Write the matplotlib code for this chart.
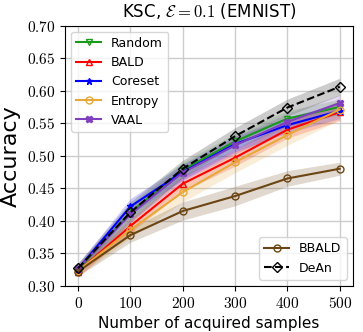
import matplotlib
matplotlib.use("Agg")
import matplotlib.pyplot as plt
from matplotlib.ticker import FuncFormatter

plt.rcParams['mathtext.fontset'] = 'cm'

# acquired samples
samples = [0, 100, 200, 300, 400, 500]

# mean accuracy per method
random_acc = [0.325, 0.413, 0.478, 0.522, 0.557, 0.575]
bald_acc = [0.322, 0.392, 0.457, 0.497, 0.540, 0.567]
coreset_acc = [0.326, 0.422, 0.475, 0.518, 0.547, 0.569]
entropy_acc = [0.323, 0.386, 0.444, 0.490, 0.532, 0.571]
vaal_acc = [0.327, 0.410, 0.474, 0.516, 0.552, 0.581]
bbald_acc = [0.322, 0.378, 0.415, 0.438, 0.465, 0.480]
dean_acc = [0.327, 0.413, 0.480, 0.530, 0.574, 0.606]

# std (shaded band)
random_std = [0.008, 0.012, 0.012, 0.012, 0.012, 0.012]
bald_std = [0.008, 0.010, 0.012, 0.013, 0.013, 0.013]
coreset_std = [0.008, 0.012, 0.012, 0.012, 0.012, 0.012]
entropy_std = [0.008, 0.012, 0.015, 0.016, 0.016, 0.016]
vaal_std = [0.008, 0.012, 0.013, 0.013, 0.013, 0.013]
bbald_std = [0.007, 0.011, 0.014, 0.015, 0.012, 0.010]
dean_std = [0.008, 0.016, 0.013, 0.013, 0.013, 0.013]

fig = plt.figure(figsize=(3.63, 3.32), dpi=100)
ax = fig.add_axes([0.179, 0.139, 0.793, 0.784])

def drawCurve(ax, y, s, color, marker, label, ls='-', mfc='none'):
    lo = [a - b for a, b in zip(y, s)]
    hi = [a + b for a, b in zip(y, s)]
    ax.fill_between(samples, lo, hi, color=color, alpha=0.2, linewidth=0)
    line, = ax.plot(samples, y, ls, color=color, marker=marker, markersize=5,
                    markerfacecolor=mfc, linewidth=1.5, label=label)
    return line

h1 = []
h1.append(drawCurve(ax, random_acc, random_std, '#1a9a1a', 'v', 'Random'))
h1.append(drawCurve(ax, bald_acc, bald_std, 'red', '^', 'BALD'))
h1.append(drawCurve(ax, coreset_acc, coreset_std, 'blue', '*', 'Coreset', mfc='blue'))
h1.append(drawCurve(ax, entropy_acc, entropy_std, '#e8a838', 'o', 'Entropy'))
h1.append(drawCurve(ax, vaal_acc, vaal_std, '#7f3fbf', 'X', 'VAAL', mfc='#7f3fbf'))
h2 = []
h2.append(drawCurve(ax, bbald_acc, bbald_std, '#6b4513', 'o', 'BBALD'))
h2.append(drawCurve(ax, dean_acc, dean_std, 'black', 'D', 'DeAn', ls='--'))
# DeAn band is gray
for c in ax.collections[-1:]:
    c.set_facecolor('gray')
    c.set_alpha(0.4)

ax.set_xlim(-25, 525)
ax.set_ylim(0.30, 0.70)
ax.set_xticks(samples)
ax.set_yticks([0.30, 0.35, 0.40, 0.45, 0.50, 0.55, 0.60, 0.65, 0.70])
ax.xaxis.set_major_formatter(FuncFormatter(lambda x, pos: r'$%d$' % x))
ax.yaxis.set_major_formatter(FuncFormatter(lambda y, pos: r'$%.2f$' % y))
ax.tick_params(labelsize=11)
ax.grid(True, color='#cccccc', linewidth=1)
ax.set_axisbelow(True)

ax.set_xlabel('Number of acquired samples', fontsize=11)
ax.set_ylabel('Accuracy', fontsize=16)
ax.yaxis.set_label_coords(-0.155, 0.5)
ax.set_title(r'KSC, $\mathcal{E} = 0.1$ (EMNIST)', fontsize=12)

leg1 = ax.legend(handles=h1, loc='upper left', fontsize=9)
ax.add_artist(leg1)
ax.legend(handles=h2, loc='lower right', fontsize=9)

fig.savefig('out.png', dpi=100)
